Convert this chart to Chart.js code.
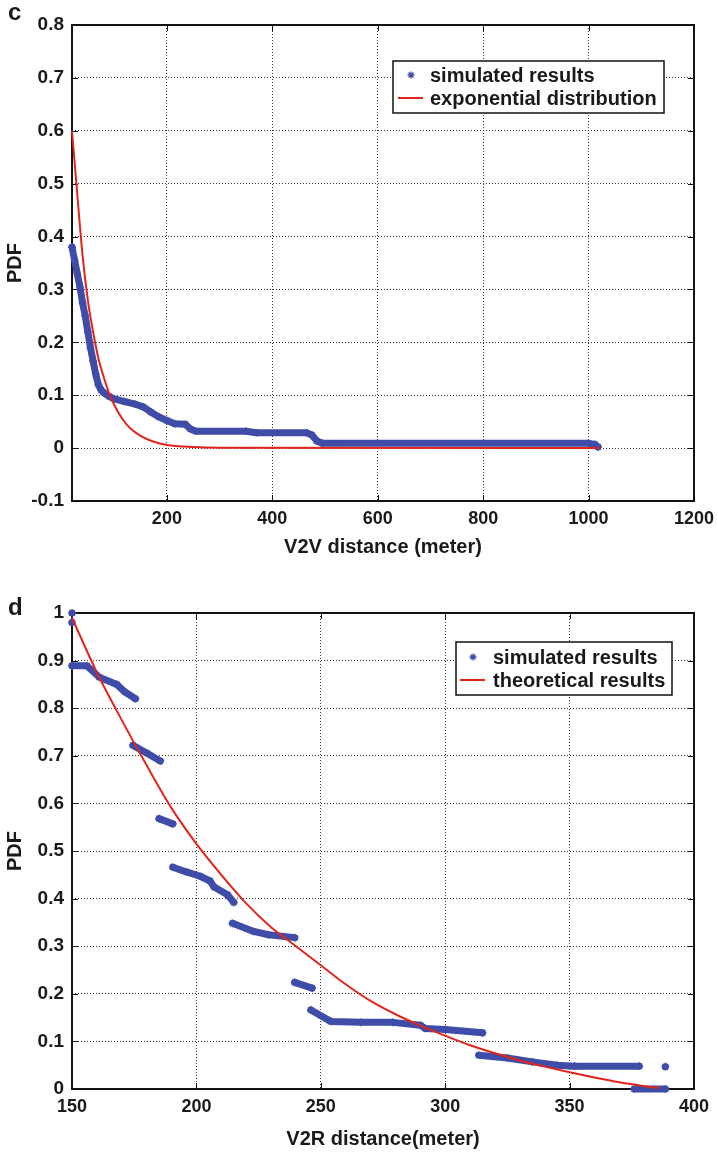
<!DOCTYPE html>
<html>
<head>
<meta charset="utf-8">
<script src="https://cdn.jsdelivr.net/npm/chart.js@4.4.1/dist/chart.umd.min.js"></script>
<style>
  html, body { margin: 0; padding: 0; background: #fff; }
  #page { position: relative; width: 718px; height: 1152px; }
  .panel { position: absolute; left: 0; width: 718px; }
  .tag { position: absolute; left: 8px; font: bold 24px "Liberation Sans", Arial, sans-serif; line-height: 24px; color: #1a1a1a; }
</style>
</head>
<body>
<div id="page">
  <div class="panel" style="top:0;height:570px"><canvas id="chartC" width="718" height="570"></canvas></div>
  <div class="panel" style="top:570px;height:582px"><canvas id="chartD" width="718" height="582"></canvas></div>
  <div class="tag" style="top:0px">c</div>
  <div class="tag" style="top:595px">d</div>
</div>
<script>
// panel c : V2V distance
const v2vSimX = [20, 25, 30, 35, 40, 45, 50, 55, 60, 65, 70, 75, 80, 90, 100, 120, 140, 155, 170, 185, 200, 215, 235, 245, 255, 350, 370, 465, 475, 485, 495, 1000, 1012, 1018];
const v2vSimY = [0.38, 0.355, 0.33, 0.305, 0.275, 0.25, 0.22, 0.19, 0.165, 0.14, 0.12, 0.11, 0.105, 0.098, 0.093, 0.088, 0.083, 0.078, 0.068, 0.059, 0.052, 0.046, 0.045, 0.036, 0.032, 0.032, 0.029, 0.029, 0.025, 0.013, 0.009, 0.009, 0.007, 0.002];
const v2vExpX = [20, 30, 40, 50, 60, 70, 80, 90, 100, 115, 130, 150, 175, 200, 250, 300, 1020];
const v2vExpY = [0.60, 0.48, 0.365, 0.28, 0.22, 0.17, 0.135, 0.105, 0.082, 0.056, 0.038, 0.023, 0.012, 0.006, 0.002, 0.0005, 0];
const v2vXTicks = [200, 400, 600, 800, 1000, 1200];
const pdfTicksC = [-0.1, 0, 0.1, 0.2, 0.3, 0.4, 0.5, 0.6, 0.7, 0.8];

// panel d : V2R distance (null = break between clusters)
const v2rSimX = [150, 150, 150, 150, 150, 156, 161, 168, 171, 175.5, 175.5, 174.5, 180, 185.5, 185.5, 185, 190.5, 190.5,
  190.5, 196, 201.5, 205.5, 207, 212.5, 215, 215, 214.5, 223, 229, 239.5, 239.5, 239.5, 246.5, 246.5,
  246, 254, 266, 279, 290, 292, 300, 315, 315, 313.5, 325, 335, 345, 352, 378, 378, 388.5, 388.5, 376, 388.5];
const v2rSimY = [1.0, null, 0.98, null, 0.889, 0.889, 0.865, 0.85, 0.835, 0.82, null, 0.722, 0.706, 0.689, null, 0.568, 0.557, null,
  0.466, 0.456, 0.447, 0.437, 0.425, 0.408, 0.392, null, 0.348, 0.331, 0.324, 0.318, null, 0.224, 0.212, null,
  0.166, 0.142, 0.14, 0.14, 0.134, 0.127, 0.125, 0.118, null, 0.071, 0.065, 0.057, 0.05, 0.048, 0.048, null, 0.047, null, 0.0, 0.0];
const v2rTheoX = [150, 160, 170, 180, 190, 200, 210, 220, 230, 240, 250, 260, 270, 280, 290, 300, 310, 320, 330, 340, 350, 360, 370, 380, 386];
const v2rTheoY = [0.99, 0.875, 0.775, 0.68, 0.59, 0.515, 0.45, 0.39, 0.34, 0.30, 0.26, 0.22, 0.185, 0.157, 0.133, 0.112, 0.092, 0.075, 0.06, 0.047, 0.035, 0.024, 0.014, 0.006, 0.002];
const v2rXTicks = [150, 200, 250, 300, 350, 400];
const pdfTicksD = [0, 0.1, 0.2, 0.3, 0.4, 0.5, 0.6, 0.7, 0.8, 0.9, 1];

const blue = '#3f4ca8';
const red = '#e2251c';
const ink = '#1a1a1a';
const fam = '"Liberation Sans", Arial, sans-serif';

function pts(xs, ys) {
  return xs.map((x, i) => ({ x: x, y: ys[i] }));
}

function drawStar(ctx, x, y, r) {
  ctx.beginPath();
  for (let k = 0; k < 4; k++) {
    let a = k * Math.PI / 4;
    ctx.moveTo(x - r * Math.cos(a), y - r * Math.sin(a));
    ctx.lineTo(x + r * Math.cos(a), y + r * Math.sin(a));
  }
  ctx.stroke();
}

// matlab style frame, inward ticks and boxed legend
const framePlugin = {
  id: 'frame',
  beforeDatasetsDraw(chart) {
    const { ctx, chartArea: a, scales } = chart;
    ctx.save();
    ctx.strokeStyle = '#111';
    ctx.lineWidth = 1;
    ctx.beginPath();
    scales.x.ticks.forEach(t => {
      let px = Math.round(scales.x.getPixelForValue(t.value)) + 0.5;
      ctx.moveTo(px, a.bottom); ctx.lineTo(px, a.bottom - 6);
      ctx.moveTo(px, a.top); ctx.lineTo(px, a.top + 6);
    });
    scales.y.ticks.forEach(t => {
      let py = Math.round(scales.y.getPixelForValue(t.value)) + 0.5;
      ctx.moveTo(a.left, py); ctx.lineTo(a.left + 6, py);
      ctx.moveTo(a.right, py); ctx.lineTo(a.right - 6, py);
    });
    ctx.stroke();
    ctx.lineWidth = 2;
    ctx.strokeRect(a.left, a.top, a.right - a.left, a.bottom - a.top);
    ctx.restore();
  },
  afterDraw(chart, args, opts) {
    if (!opts || !opts.box) return;
    const ctx = chart.ctx;
    const b = opts.box;
    ctx.save();
    ctx.fillStyle = '#fff';
    ctx.fillRect(b[0], b[1], b[2], b[3]);
    ctx.strokeStyle = '#111';
    ctx.lineWidth = 1.5;
    ctx.strokeRect(b[0], b[1], b[2], b[3]);
    ctx.font = 'bold 20px ' + fam;
    ctx.textBaseline = 'middle';
    ctx.fillStyle = ink;
    opts.rows.forEach((row, i) => {
      let y = opts.rowY[i];
      if (row.kind === 'star') {
        ctx.strokeStyle = blue;
        ctx.lineWidth = 1.3;
        drawStar(ctx, opts.markX, y, 3.5);
      } else {
        ctx.strokeStyle = red;
        ctx.lineWidth = 2;
        ctx.beginPath();
        ctx.moveTo(opts.markX - 13, y);
        ctx.lineTo(opts.markX + 12, y);
        ctx.stroke();
      }
      ctx.fillText(row.text, opts.textX, y + 1);
    });
    ctx.restore();
  }
};

function makeChart(id, c) {
  return new Chart(document.getElementById(id), {
    type: 'scatter',
    data: {
      datasets: [
        {
          label: c.lineLabel,
          data: c.line,
          showLine: true,
          borderColor: red,
          borderWidth: 2,
          pointRadius: 0,
          cubicInterpolationMode: 'monotone',
          order: 0,
          clip: false
        },
        {
          label: 'simulated results',
          data: c.sim,
          showLine: true,
          spanGaps: false,
          borderColor: blue,
          backgroundColor: blue,
          borderWidth: 7,
          borderCapStyle: 'round',
          borderJoinStyle: 'round',
          pointStyle: 'star',
          pointRadius: 3.8,
          pointBorderWidth: 1.6,
          pointBorderColor: blue,
          order: 1,
          clip: false
        }
      ]
    },
    options: {
      responsive: false,
      animation: false,
      events: [],
      layout: { padding: { top: c.top, right: 24, left: 0, bottom: 0 } },
      plugins: {
        legend: { display: false },
        tooltip: { enabled: false },
        frame: c.legend
      },
      scales: {
        x: {
          type: 'linear',
          min: c.xMin,
          max: c.xMax,
          afterBuildTicks: s => { s.ticks = c.xTicks.map(v => ({ value: v })); },
          afterFit: s => { s.height = c.xh; s.paddingLeft = 0; s.paddingRight = 0; },
          grid: { color: '#333', lineWidth: 1, drawTicks: false },
          border: { display: false, dash: [1, 2] },
          ticks: {
            padding: 7, color: ink, font: { family: fam, size: 18, weight: 'bold' }, maxRotation: 0, autoSkip: false,
            callback: v => String(v)
          },
          title: { display: true, text: c.xTitle, color: ink, font: { family: fam, size: 20, weight: 'bold' }, padding: { top: 0, bottom: c.titlePad } }
        },
        y: {
          type: 'linear',
          min: c.yMin,
          max: c.yMax,
          afterBuildTicks: s => { s.ticks = c.yTicks.map(v => ({ value: v })); },
          afterFit: s => { s.width = 72; },
          grid: { color: '#333', lineWidth: 1, drawTicks: false },
          border: { display: false, dash: [1, 2] },
          ticks: {
            padding: 8, color: ink, font: { family: fam, size: 19, weight: 'bold' }, autoSkip: false,
            callback: v => String(Number(v.toFixed(1)))
          },
          title: { display: true, text: 'PDF', color: ink, font: { family: fam, size: 20, weight: 'bold' }, padding: { top: 3, bottom: 0 } }
        }
      }
    },
    plugins: [framePlugin]
  });
}

makeChart('chartC', {
  line: pts(v2vExpX, v2vExpY),
  sim: pts(v2vSimX, v2vSimY),
  lineLabel: 'exponential distribution',
  xMin: 20, xMax: 1200, yMin: -0.1, yMax: 0.8,
  xTicks: v2vXTicks, yTicks: pdfTicksC,
  xTitle: 'V2V distance (meter)',
  top: 25, xh: 69, titlePad: 11,
  legend: {
    box: [393, 61, 271, 52], markX: 411, textX: 430, rowY: [75, 98],
    rows: [{ kind: 'star', text: 'simulated results' }, { kind: 'line', text: 'exponential distribution' }]
  }
});

makeChart('chartD', {
  line: pts(v2rTheoX, v2rTheoY),
  sim: pts(v2rSimX, v2rSimY),
  lineLabel: 'theoretical results',
  xMin: 150, xMax: 400, yMin: 0, yMax: 1,
  xTicks: v2rXTicks, yTicks: pdfTicksD,
  xTitle: 'V2R distance(meter)',
  top: 43, xh: 63, titlePad: 1,
  legend: {
    box: [456, 72, 216, 53], markX: 473, textX: 493, rowY: [87, 110],
    rows: [{ kind: 'star', text: 'simulated results' }, { kind: 'line', text: 'theoretical results' }]
  }
});
</script>
</body>
</html>
